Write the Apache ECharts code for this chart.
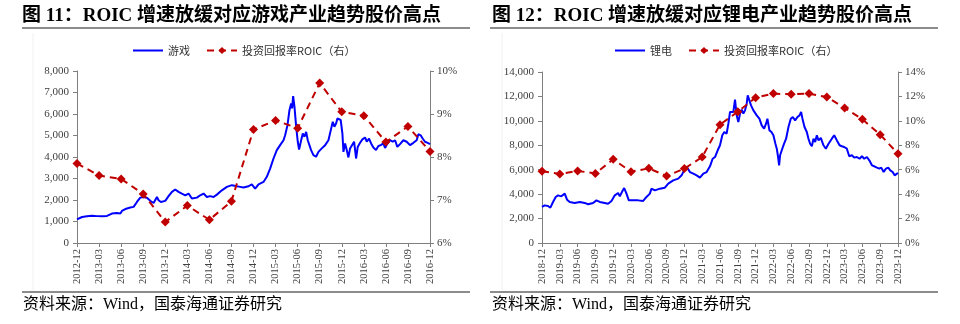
<!DOCTYPE html>
<html><head><meta charset="utf-8">
<script src="https://cdn.jsdelivr.net/npm/echarts/dist/echarts.min.js"></script>
<style>html,body{margin:0;padding:0;background:#fff}#c{width:960px;height:324px}</style>
</head><body><div id="c"></div>
<script>
// ---------- Data: left chart (游戏) ----------
const gameTicks = ['2012-12','2013-03','2013-06','2013-09','2013-12','2014-03','2014-06','2014-09','2014-12','2015-03','2015-06','2015-09','2015-12','2016-03','2016-06','2016-09','2016-12'];
const gameRoic = [7.85,7.57,7.49,7.14,6.49,6.87,6.54,6.97,8.64,8.85,8.67,9.72,9.05,8.96,8.35,8.71,8.13];
const gameX = [0,0.68,1.36,2.04,2.72,3.40,4.08,4.75,4.98,5.43,5.89,6.11,6.57,7.25,7.70,8.15,8.60,9.06,9.51,9.96,10.42,10.87,11.09,11.41,12.0,12.45,12.91,13.36,13.81,14.26,14.72,15.17,15.62,16.30,16.75,17.21,17.66,18.11,18.57,19.02,19.70,20.38,21.06,21.74,22.19,22.64,23.32,23.77,24.23,24.68,25.36,25.81,26.26,26.72,27.17,27.62,28.08,28.30,28.62,28.89,29.12,29.25,29.39,29.57,29.80,30.02,30.20,30.48,30.70,30.93,31.16,31.38,31.61,31.83,32.15,32.51,32.83,33.28,33.74,34.19,34.51,34.78,35.0,35.23,35.41,35.64,35.86,36.09,36.23,36.45,36.68,36.91,37.13,37.36,37.68,37.95,38.17,38.49,38.81,39.17,39.40,39.71,39.99,40.30,40.66,40.98,41.30,41.66,41.89,42.20,42.56,42.93,43.25,43.56,43.92,44.38,44.83,45.28,45.74,46.19,46.42,46.73,47.0,47.32,47.68,48];
const gameY = [1100,1210,1240,1270,1250,1240,1260,1370,1450,1400,1370,1490,1580,1650,1680,1910,2110,2140,2100,1960,1860,2140,1990,1910,1960,2180,2380,2490,2380,2300,2220,2300,2070,2110,2220,2300,2140,2180,2140,2250,2450,2610,2690,2640,2610,2580,2640,2730,2530,2730,2840,3080,3460,3930,4320,4550,4780,5010,5480,6180,6490,6260,6830,6340,5410,4710,4350,4780,5090,4940,5170,4780,4860,4320,4090,4010,4240,4400,4550,4780,5250,5640,5410,5560,5790,5870,5720,5090,4240,4630,4320,3980,4400,4320,4710,3930,4470,4660,4820,4910,4710,4860,4630,4440,4320,4510,4550,4630,4420,4630,4780,4710,4780,4470,4600,4780,4710,4550,4660,4780,5060,5010,4860,4710,4660,4600];

// ---------- Data: right chart (锂电) ----------
const liTicks = ['2018-12','2019-03','2019-06','2019-09','2019-12','2020-03','2020-06','2020-09','2020-12','2021-03','2021-06','2021-09','2021-12','2022-03','2022-06','2022-09','2022-12','2023-03','2023-06','2023-09','2023-12'];
const liRoic = [5.87,5.65,5.90,5.70,6.85,5.84,6.11,5.49,6.09,7.04,9.69,10.75,11.90,12.23,12.17,12.23,11.95,11.05,10.13,8.87,7.31];
const liX = [0,0.45,1.01,1.41,1.86,2.31,2.70,3.26,3.83,4.22,4.67,5.52,6.36,7.20,7.77,8.61,9.17,9.74,10.58,11.14,11.71,12.27,12.83,13.11,13.56,13.85,14.24,14.63,15.37,16.21,17.05,17.61,18.18,18.46,19.02,19.87,20.71,21.28,22.12,22.96,23.53,24.09,24.48,24.93,25.50,26.06,26.62,27.19,27.75,28.31,28.76,29.16,29.61,30.0,30.39,30.73,31.12,31.41,31.69,31.97,32.25,32.53,32.81,33.09,33.38,33.66,33.94,34.22,34.50,34.67,34.95,35.23,35.63,36.19,36.64,37.03,37.43,37.76,37.99,38.33,38.67,39.00,39.34,39.57,39.79,39.96,40.13,40.41,40.80,41.14,41.54,41.93,42.27,42.66,43.06,43.40,43.67,43.90,44.24,44.63,44.91,45.19,45.48,45.76,46.04,46.32,46.60,46.99,47.44,47.84,48.29,48.85,49.25,49.70,50.15,50.54,50.93,51.38,51.78,52.23,52.62,53.07,53.52,53.92,54.31,54.76,55.16,55.61,56.00,56.45,56.84,57.18,57.58,57.97,58.36,58.70,59.10,59.43,59.83,60];
const liY = [2950,3080,3030,2890,3360,3770,3900,3820,4040,3550,3360,3280,3360,3280,3170,3280,3490,3360,3280,3220,3440,3900,4090,3820,4260,4500,4040,3490,3490,3490,3440,3770,4040,4450,4310,4450,4530,4860,5130,5270,5540,6090,6170,5810,5680,5540,5350,5680,5810,6280,6900,7040,7590,8000,8820,9090,8950,9770,10730,10860,10730,11740,10450,9910,10590,10920,10590,10860,11410,12090,11680,11270,10860,10450,10180,9630,9360,9770,10180,9220,9090,8820,8130,7720,7040,6360,7180,7590,8130,8540,9500,10180,10320,10040,10320,10450,10730,10180,9500,9090,8540,8130,7920,8540,8270,8820,8400,8600,8000,7720,8130,8540,8820,8400,8000,7920,7860,7720,7100,7180,6990,7040,6900,7100,6900,7040,6770,6360,6280,6170,6090,6170,5810,6090,6170,5950,5810,5540,5680,5730];

const titles = ['图 11：ROIC 增速放缓对应游戏产业趋势股价高点','图 12：ROIC 增速放缓对应锂电产业趋势股价高点'];
const seriesNames = [['游戏','投资回报率ROIC（右）'],['锂电','投资回报率ROIC（右）']];
const sourceText = '资料来源：Wind，国泰海通证券研究';

// ---------- Build ----------
const zip = (xs, ys) => xs.map((x, i) => [x, ys[i]]);
const serif = '"Liberation Serif","Times New Roman",serif';
const axisColor = '#7f7f7f';
const labelColor = '#404040';

function xAxis(gi, ticks) {
  return {
    type: 'value', gridIndex: gi, min: 0, max: (ticks.length - 1) * 3, interval: 3,
    axisLine: {show: true, onZero: false, lineStyle: {color: axisColor, width: 1}},
    axisTick: {show: true, length: 4, lineStyle: {color: axisColor}},
    splitLine: {show: false},
    axisLabel: {rotate: 90, fontFamily: serif, fontSize: 10.5, color: labelColor, margin: 6,
      formatter: v => ticks[Math.round(v / 3)] || ''}
  };
}
function yLeft(gi, max, interval) {
  return {
    type: 'value', gridIndex: gi, position: 'left', min: 0, max: max, interval: interval,
    axisLine: {show: true, lineStyle: {color: axisColor}},
    axisTick: {show: true, length: 4, lineStyle: {color: axisColor}},
    splitLine: {show: false},
    axisLabel: {fontFamily: serif, fontSize: 11, color: labelColor, margin: 8,
      formatter: v => v.toLocaleString('en-US')}
  };
}
function yRight(gi, min, max, interval) {
  return {
    type: 'value', gridIndex: gi, position: 'right', min: min, max: max, interval: interval,
    axisLine: {show: true, lineStyle: {color: axisColor}},
    axisTick: {show: true, length: 4, lineStyle: {color: axisColor}},
    splitLine: {show: false},
    axisLabel: {fontFamily: serif, fontSize: 11, color: labelColor, margin: 7,
      formatter: v => v + '%'}
  };
}
function blue(name, xi, yi, data) {
  return {name, type: 'line', xAxisIndex: xi, yAxisIndex: yi, data, symbol: 'none', showSymbol: false,
    lineStyle: {color: '#0000FF', width: 2}, itemStyle: {color: '#0000FF'}, z: 2};
}
function red(name, xi, yi, data) {
  return {name, type: 'line', xAxisIndex: xi, yAxisIndex: yi, data, symbol: 'diamond', symbolSize: 9,
    lineStyle: {color: '#C00000', width: 2, type: [7, 5]}, itemStyle: {color: '#C00000'}, z: 3};
}
function legend(names, left) {
  return {
    data: [{name: names[0], itemStyle: {opacity: 0}}, {name: names[1]}],
    left: left, top: 40, itemWidth: 30, itemHeight: 9, itemGap: 16,
    textStyle: {fontFamily: '"Noto Sans CJK SC"', fontSize: 11, color: '#333'}
  };
}

const chart = echarts.init(document.getElementById('c'), null, {renderer: 'canvas'});
const titleFont = 'bold 19px "Liberation Serif","Noto Sans CJK SC",serif';
const srcFont = '16px "Liberation Serif","Noto Sans CJK SC",serif';
chart.setOption({
  animation: false,
  backgroundColor: '#fff',
  grid: [
    {left: 77, right: 530, top: 71, bottom: 81, containLabel: false},
    {left: 542, right: 62, top: 72, bottom: 81, containLabel: false}
  ],
  xAxis: [xAxis(0, gameTicks), xAxis(1, liTicks)],
  yAxis: [yLeft(0, 8000, 1000), yRight(0, 6, 10, 1), yLeft(1, 14000, 2000), yRight(1, 0, 14, 2)],
  legend: [legend(seriesNames[0], 127), legend(seriesNames[1], 609)],
  series: [
    blue(seriesNames[0][0], 0, 0, zip(gameX, gameY)),
    red(seriesNames[0][1], 0, 1, gameRoic.map((v, i) => [i * 3, v])),
    blue(seriesNames[1][0], 1, 2, zip(liX, liY)),
    red(seriesNames[1][1], 1, 3, liRoic.map((v, i) => [i * 3, v]))
  ],
  graphic: [
    {type: 'text', left: 22, top: 7, style: {text: titles[0], font: titleFont, fill: '#000'}},
    {type: 'text', left: 492, top: 7, style: {text: titles[1], font: titleFont, fill: '#000'}},
    {type: 'line', shape: {x1: 22, y1: 28, x2: 470, y2: 28}, style: {stroke: '#666', lineWidth: 1.5}},
    {type: 'line', shape: {x1: 490, y1: 28, x2: 938, y2: 28}, style: {stroke: '#666', lineWidth: 1.5}},
    {type: 'line', shape: {x1: 22, y1: 292, x2: 470, y2: 292}, style: {stroke: '#666', lineWidth: 1.5}},
    {type: 'line', shape: {x1: 490, y1: 292, x2: 938, y2: 292}, style: {stroke: '#666', lineWidth: 1.5}},
    {type: 'line', shape: {x1: 33, y1: 33, x2: 33, y2: 290}, style: {stroke: '#f0f0f0', lineWidth: 1}},
    {type: 'line', shape: {x1: 502, y1: 33, x2: 502, y2: 290}, style: {stroke: '#f0f0f0', lineWidth: 1}},
    {type: 'text', left: 23, top: 297, style: {text: sourceText, font: srcFont, fill: '#000'}},
    {type: 'text', left: 492, top: 297, style: {text: sourceText, font: srcFont, fill: '#000'}}
  ]
});
</script></body></html>
